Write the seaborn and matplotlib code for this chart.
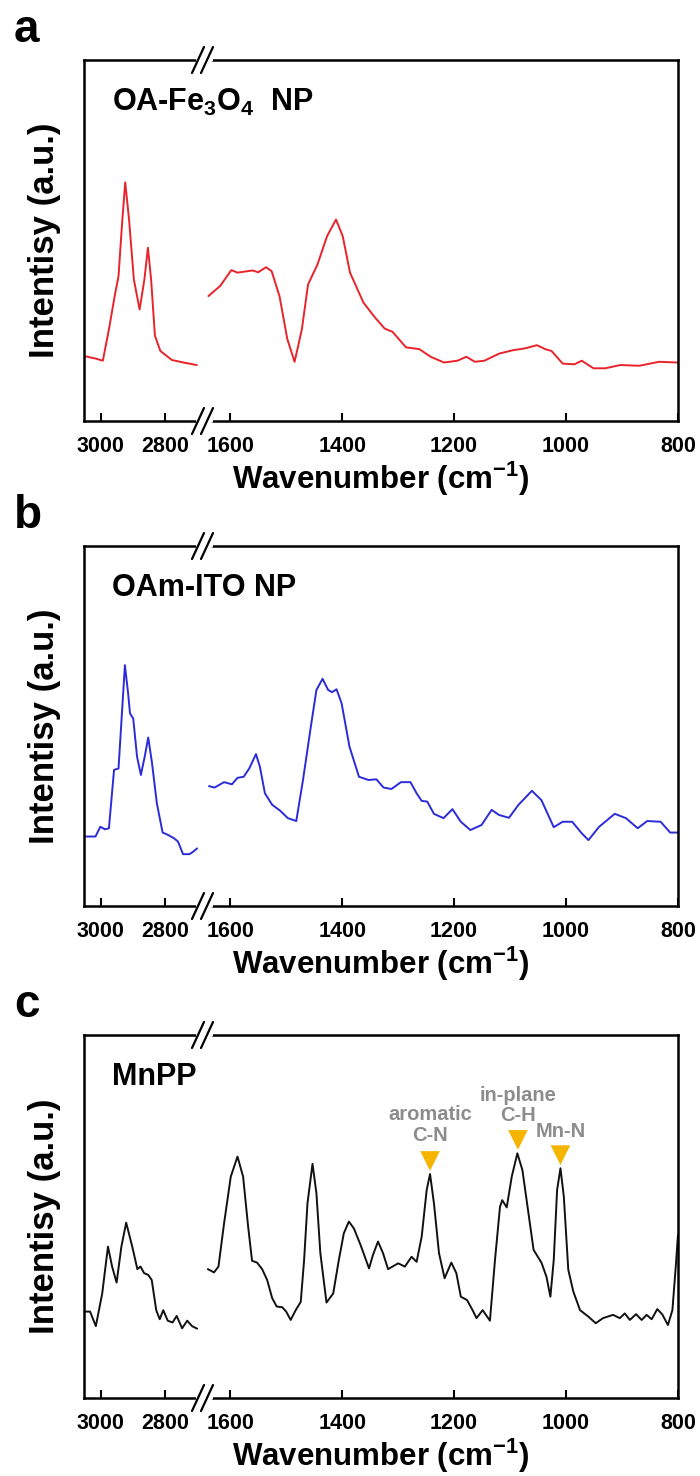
import seaborn as sns
import matplotlib.pyplot as plt
from matplotlib.lines import Line2D

sns.set_style("white")
plt.rcParams['font.family'] = ['Liberation Sans', 'DejaVu Sans']
plt.rcParams['font.weight'] = 'bold'
plt.rcParams['text.color'] = 'black'
plt.rcParams['mathtext.fontset'] = 'custom'
plt.rcParams['mathtext.rm'] = 'Liberation Sans:bold'
plt.rcParams['mathtext.bf'] = 'Liberation Sans:bold'
plt.rcParams['mathtext.default'] = 'bf'

# Panel a: OA-Fe3O4 NP (wavenumber cm-1, intensity a.u.)
fe_wn_hi = [3053, 3017, 2994, 2975, 2957, 2945, 2933, 2924, 2912, 2897, 2879, 2864,
            2853, 2843, 2831, 2814, 2778, 2742, 2700]
fe_int_hi = [0.18, 0.173, 0.167, 0.254, 0.346, 0.401, 0.558, 0.661, 0.558, 0.392, 0.309,
             0.392, 0.48, 0.392, 0.236, 0.194, 0.169, 0.162, 0.155]
fe_wn_lo = [1639, 1618, 1598, 1587, 1560, 1550, 1536, 1526, 1512, 1498, 1485, 1472, 1461,
            1444, 1427, 1411, 1399, 1386, 1362, 1341, 1324, 1310, 1286, 1262, 1242, 1218,
            1194, 1178, 1163, 1146, 1119, 1095, 1074, 1052, 1037, 1026, 1006, 985, 972,
            951, 930, 903, 869, 834, 800]
fe_int_lo = [0.346, 0.374, 0.418, 0.411, 0.417, 0.412, 0.426, 0.415, 0.346, 0.227, 0.164,
             0.254, 0.378, 0.434, 0.512, 0.558, 0.512, 0.411, 0.328, 0.286, 0.256, 0.247,
             0.204, 0.199, 0.178, 0.162, 0.167, 0.178, 0.164, 0.167, 0.187, 0.196, 0.201,
             0.21, 0.199, 0.194, 0.159, 0.157, 0.167, 0.146, 0.146, 0.155, 0.153, 0.164,
             0.162]

# Panel b: OAm-ITO NP
ito_wn_hi = [3053, 3017, 3002, 2987, 2975, 2959, 2945, 2933, 2925, 2915, 2909, 2899, 2887,
             2875, 2863, 2852, 2840, 2825, 2807, 2789, 2771, 2759, 2743, 2723, 2711, 2699]
ito_int_hi = [0.193, 0.193, 0.22, 0.213, 0.216, 0.378, 0.382, 0.554, 0.669, 0.591, 0.535,
              0.521, 0.415, 0.364, 0.415, 0.468, 0.396, 0.285, 0.204, 0.197, 0.188, 0.179,
              0.144, 0.144, 0.151, 0.16]
ito_wn_lo = [1638, 1628, 1611, 1597, 1587, 1576, 1566, 1554, 1547, 1538, 1525, 1511, 1497,
             1482, 1470, 1456, 1446, 1435, 1425, 1418, 1410, 1401, 1387, 1370, 1353, 1339,
             1326, 1312, 1295, 1278, 1267, 1258, 1248, 1236, 1219, 1203, 1188, 1171, 1151,
             1133, 1120, 1102, 1085, 1061, 1044, 1022, 1006, 989, 972, 960, 941, 913, 893,
             872, 855, 831, 814, 800]
ito_int_lo = [0.333, 0.329, 0.344, 0.338, 0.356, 0.359, 0.382, 0.422, 0.387, 0.313, 0.281,
              0.265, 0.244, 0.236, 0.35, 0.498, 0.6, 0.631, 0.6, 0.594, 0.602, 0.563, 0.443,
              0.359, 0.35, 0.352, 0.329, 0.325, 0.344, 0.344, 0.313, 0.292, 0.29, 0.256,
              0.244, 0.269, 0.234, 0.211, 0.225, 0.267, 0.253, 0.245, 0.281, 0.32, 0.294,
              0.219, 0.234, 0.234, 0.202, 0.183, 0.22, 0.256, 0.244, 0.216, 0.236, 0.234,
              0.204, 0.204]

# Panel c: MnPP
mn_wn_hi = [3048, 3034, 3016, 2996, 2978, 2965, 2951, 2936, 2921, 2902, 2886, 2876, 2865,
            2852, 2841, 2827, 2816, 2805, 2791, 2776, 2763, 2746, 2730, 2715, 2699]
mn_int_hi = [0.238, 0.238, 0.198, 0.288, 0.417, 0.362, 0.318, 0.417, 0.483, 0.417, 0.355,
             0.362, 0.344, 0.339, 0.325, 0.242, 0.217, 0.242, 0.213, 0.208, 0.226, 0.192,
             0.213, 0.198, 0.191]
mn_wn_lo = [1640, 1629, 1621, 1611, 1599, 1587, 1577, 1568, 1561, 1552, 1543, 1534, 1525,
            1517, 1507, 1500, 1492, 1483, 1474, 1468, 1462, 1453, 1446, 1439, 1428, 1416,
            1406, 1397, 1388, 1379, 1367, 1352, 1345, 1336, 1327, 1318, 1300, 1288, 1276,
            1267, 1258, 1249, 1243, 1236, 1227, 1217, 1205, 1196, 1188, 1177, 1167, 1160,
            1149, 1136, 1127, 1118, 1114, 1106, 1097, 1087, 1078, 1068, 1058, 1044, 1035,
            1028, 1022, 1016, 1010, 1004, 996, 987, 975, 960, 947, 934, 916, 904, 895, 886,
            875, 865, 856, 847, 837, 828, 818, 810, 804, 800]
mn_int_lo = [0.355, 0.346, 0.362, 0.481, 0.61, 0.665, 0.61, 0.472, 0.378, 0.373, 0.355,
             0.325, 0.275, 0.252, 0.25, 0.238, 0.215, 0.242, 0.265, 0.38, 0.536, 0.645,
             0.564, 0.399, 0.263, 0.288, 0.38, 0.454, 0.486, 0.467, 0.421, 0.357, 0.394,
             0.431, 0.399, 0.355, 0.371, 0.362, 0.389, 0.375, 0.444, 0.573, 0.617, 0.536,
             0.399, 0.33, 0.373, 0.344, 0.279, 0.27, 0.242, 0.22, 0.242, 0.213, 0.38, 0.527,
             0.545, 0.525, 0.61, 0.674, 0.628, 0.518, 0.408, 0.373, 0.334, 0.279, 0.38,
             0.573, 0.633, 0.555, 0.353, 0.293, 0.242, 0.224, 0.206, 0.22, 0.229, 0.22,
             0.233, 0.215, 0.231, 0.215, 0.229, 0.217, 0.245, 0.23, 0.201, 0.242, 0.362,
             0.45]

# peak assignments in panel c
ann_labels = ['aromatic\nC-N', 'in-plane\nC-H', 'Mn-N']
ann_wn = [1243, 1086, 1010]
ann_marker_y = [0.653, 0.711, 0.669]
ann_text_y = [0.752, 0.806, 0.733]

W, H = 700, 1476
fig = plt.figure(figsize=(W / 100, H / 100), dpi=100)


def draw_break(y):
    # white gap in the frame plus the "//" marks
    fig.add_artist(Line2D([198 / W, 211 / W], [1 - y / H, 1 - y / H], color='white', lw=3))
    for dx in (0, 9):
        fig.add_artist(Line2D([(192 + dx) / W, (204 + dx) / W],
                              [1 - (y + 13) / H, 1 - (y - 13) / H], color='black', lw=1.6))


def draw_panel(top, bot, letter, name, color, wn_hi, int_hi, wn_lo, int_lo):
    hgt = (bot - top) / H
    ax_l = fig.add_axes([84 / W, 1 - bot / H, 116 / W, hgt])
    ax_r = fig.add_axes([200 / W, 1 - bot / H, 478 / W, hgt])
    sns.lineplot(x=wn_hi, y=int_hi, ax=ax_l, color=color, lw=1.4, estimator=None, sort=False)
    sns.lineplot(x=wn_lo, y=int_lo, ax=ax_r, color=color, lw=1.4, estimator=None, sort=False)
    ax_l.set_xlim(3053, 2690)
    ax_r.set_xlim(1654, 800)
    ax_l.set_xticks([3000, 2800])
    ax_r.set_xticks([1600, 1400, 1200, 1000, 800])
    for ax in (ax_l, ax_r):
        ax.set_ylim(0, 1)
        ax.set_yticks([])
        ax.set_xlabel('')
        ax.set_ylabel('')
        ax.patch.set_visible(False)
        ax.tick_params(axis='x', direction='in', length=6, width=1.5, labelsize=15.5, pad=11,
                       bottom=True, top=False, colors='black')
        for s in ax.spines.values():
            s.set_linewidth(1.8)
            s.set_color('black')
    ax_l.spines['right'].set_visible(False)
    ax_r.spines['left'].set_visible(False)
    fig.text(112 / W, 1 - (top + 42) / H, name, fontsize=22, fontweight='bold',
             va='center', ha='left')
    draw_break(top)
    draw_break(bot)
    fig.text(14 / W, 1 - (top - 18) / H, letter, fontsize=33, fontweight='bold',
             ha='left', va='baseline')
    fig.text(45 / W, 1 - (top + bot) / 2 / H, 'Intentisy (a.u.)', rotation=90,
             fontsize=25, fontweight='bold', ha='center', va='center')
    fig.text(381 / W, 1 - (bot + 58) / H, 'Wavenumber (cm$^{-1}$)', fontsize=22.5,
             fontweight='bold', ha='center', va='center')
    return ax_r


draw_panel(60, 421, 'a', 'OA-Fe$_3$O$_4$  NP', '#e8232b', fe_wn_hi, fe_int_hi, fe_wn_lo, fe_int_lo)
draw_panel(546, 906, 'b', 'OAm-ITO NP', '#2b2bd9', ito_wn_hi, ito_int_hi, ito_wn_lo, ito_int_lo)
ax_c = draw_panel(1035, 1398, 'c', 'MnPP', '#111111', mn_wn_hi, mn_int_hi, mn_wn_lo, mn_int_lo)

sns.scatterplot(x=ann_wn, y=ann_marker_y, ax=ax_c, marker='v', s=200, color='#f5b400',
                edgecolor='none', zorder=5)
for lab, xw, yt in zip(ann_labels, ann_wn, ann_text_y):
    ax_c.text(xw, yt, lab, color='#8c8c8c', fontsize=14.5, fontweight='bold',
              ha='center', va='center', linespacing=1.1)

fig.savefig('out.png', dpi=100)
